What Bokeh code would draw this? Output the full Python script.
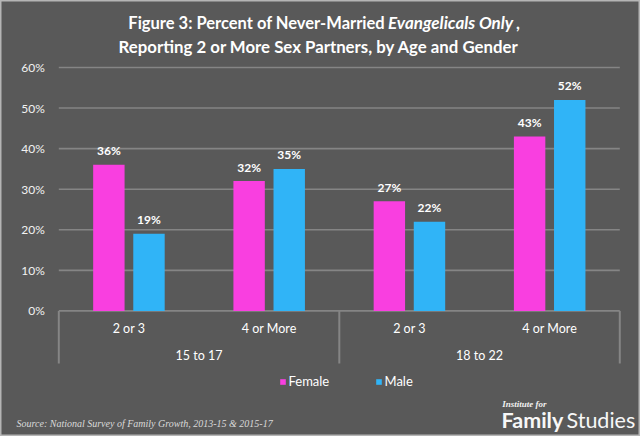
from bokeh.plotting import figure
from bokeh.models import Range1d, Label, Legend, LegendItem, ColumnDataSource
from bokeh.core.properties import value
from bokeh.embed import file_html
from bokeh.resources import INLINE

# ---------------- data ----------------
age_groups = ["15 to 17", "15 to 17", "18 to 22", "18 to 22"]
partners = ["2 or 3", "4 or More", "2 or 3", "4 or More"]
female = [36, 32, 27, 43]
male = [19, 35, 22, 52]
series_names = ["Female", "Male"]
y_ticks = [0, 10, 20, 30, 40, 50, 60]
title_part1 = "Figure 3: Percent of Never-Married"
title_part2 = "Evangelicals  Only"
title_part3 = ","
title_line2 = "Reporting 2 or More Sex Partners, by Age and Gender"
source_note = "Source: National Survey of Family Growth, 2013-15 & 2015-17"
logo_small = "Institute for"
logo_bold = "Family"
logo_light = "Studies"

# ---------------- styling / layout ----------------
BG = "#595959"
GRID = "#858585"
PINK = "#f93fe0"
BLUE = "#30b4f7"
TXT = "#ffffff"
FONT = "Lato"

W, H = 640, 436
PLOT_L, PLOT_R = 58.3, 619.3      # pixel extent of the category axis
ZERO_Y, TOP_Y = 310.4, 67.0       # pixel rows of 0% and 60%
n = len(partners)
sx = (PLOT_R - PLOT_L) / n
sy = (ZERO_Y - TOP_Y) / y_ticks[-1]

x_range = Range1d(-PLOT_L / sx, (W - PLOT_L) / sx)
y_range = Range1d(-(H - ZERO_Y) / sy, ZERO_Y / sy)


def fx(px):
    return (px - PLOT_L) / sx


def fy(py):
    return (ZERO_Y - py) / sy


p = figure(width=W, height=H, x_range=x_range, y_range=y_range,
           output_backend="svg", toolbar_location=None, title=None,
           x_axis_location=None, y_axis_location=None, min_border=0)
p.background_fill_color = BG
p.border_fill_color = BG
p.outline_line_color = "#b5b5b5"
p.outline_line_width = 2
p.grid.visible = False

# grid lines + y tick labels
p.segment(x0=[0] * len(y_ticks), x1=[n] * len(y_ticks), y0=y_ticks,
          y1=y_ticks, line_color=GRID, line_width=1.6)
p.text(x=[0] * len(y_ticks), y=y_ticks, text=[f"{t}%" for t in y_ticks],
       x_offset=-14, text_align="right", text_baseline="middle",
       text_color="#f2f2f2", text_font=value(FONT), text_font_size="12px")

centers = [i + 0.5 for i in range(n)]
off, bw = 0.143, 0.224
src = ColumnDataSource(dict(
    xf=[c - off for c in centers], xm=[c + off for c in centers],
    female=female, male=male,
    flab=[f"{v}%" for v in female], mlab=[f"{v}%" for v in male],
))

rf = p.vbar(x="xf", top="female", width=bw, source=src,
            fill_color=PINK, line_color=None)
rm = p.vbar(x="xm", top="male", width=bw, source=src,
            fill_color=BLUE, line_color=None)

for xc, col, lab in (("xf", "female", "flab"), ("xm", "male", "mlab")):
    p.text(x=xc, y=col, text=lab, source=src, y_offset=-14,
           text_align="center", text_baseline="middle", text_color=TXT,
           text_font=value(FONT), text_font_style="bold",
           text_font_size="12px")

# category axis separators
bounds = [0]
for i in range(1, n + 1):
    if i == n or age_groups[i] != age_groups[i - 1]:
        bounds.append(i)
p.segment(x0=bounds, x1=bounds, y0=[0] * len(bounds),
          y1=[fy(363)] * len(bounds), line_color=GRID, line_width=2)

# partner labels
p.text(x=centers, y=[fy(327.8)] * n, text=partners,
       text_align="center", text_baseline="middle", text_color=TXT,
       text_font=value(FONT), text_font_size="12.5px")
# age group labels (centre of each group span)
group_x = [(a + b) / 2 for a, b in zip(bounds[:-1], bounds[1:])]
group_names = [age_groups[b] for b in bounds[:-1]]
p.text(x=group_x, y=[fy(354.5)] * len(group_x), text=group_names,
       text_align="center", text_baseline="middle", text_color=TXT,
       text_font=value(FONT), text_font_size="12.5px")

# legend (location = bottom-left corner of the legend box)
legend = Legend(items=[LegendItem(label=series_names[0], renderers=[rf]),
                       LegendItem(label=series_names[1], renderers=[rm])],
                orientation="horizontal",
                location=(278.5, H - 389),
                glyph_width=7, glyph_height=7, label_standoff=3,
                label_width=86, label_height=7, spacing=0, padding=0,
                margin=0, border_line_color=None, background_fill_alpha=0,
                label_text_color=TXT, label_text_font=FONT,
                label_text_font_size="13px", label_text_baseline="middle")
p.add_layout(legend, "center")


def lab(text, px, py, size, style="bold", align="left", font=FONT,
        color=TXT):
    p.add_layout(Label(x=fx(px), y=fy(py), x_units="data", y_units="data",
                       text=text, text_font=font, text_font_size=size,
                       text_font_style=style, text_align=align,
                       text_baseline="middle", text_color=color))


# title
TS = "16.5px"
lab(title_part1, 384.5, 22.2, TS, align="right")
lab(title_part2, 452, 22.2, "17px", style="bold italic", align="center")
lab(title_part3, 515.5, 22.2, TS)
lab(title_line2, 318.3, 46.3, "16.8px", align="center")

# source + logo
lab(source_note, 16, 422.7, "10px", style="italic", font="Liberation Serif",
    color="#d9d9d9")
lab(logo_small, 501.7, 403, "9px", style="bold italic",
    font="Liberation Serif", color="#f2f2f2")
lab(logo_bold, 501, 419.5, "21.5px", style="bold", color="#f7f7f7")
lab(logo_light, 566, 419.5, "21.5px", style="normal", color="#f7f7f7")

open("out.html", "w").write(file_html(p, INLINE))
